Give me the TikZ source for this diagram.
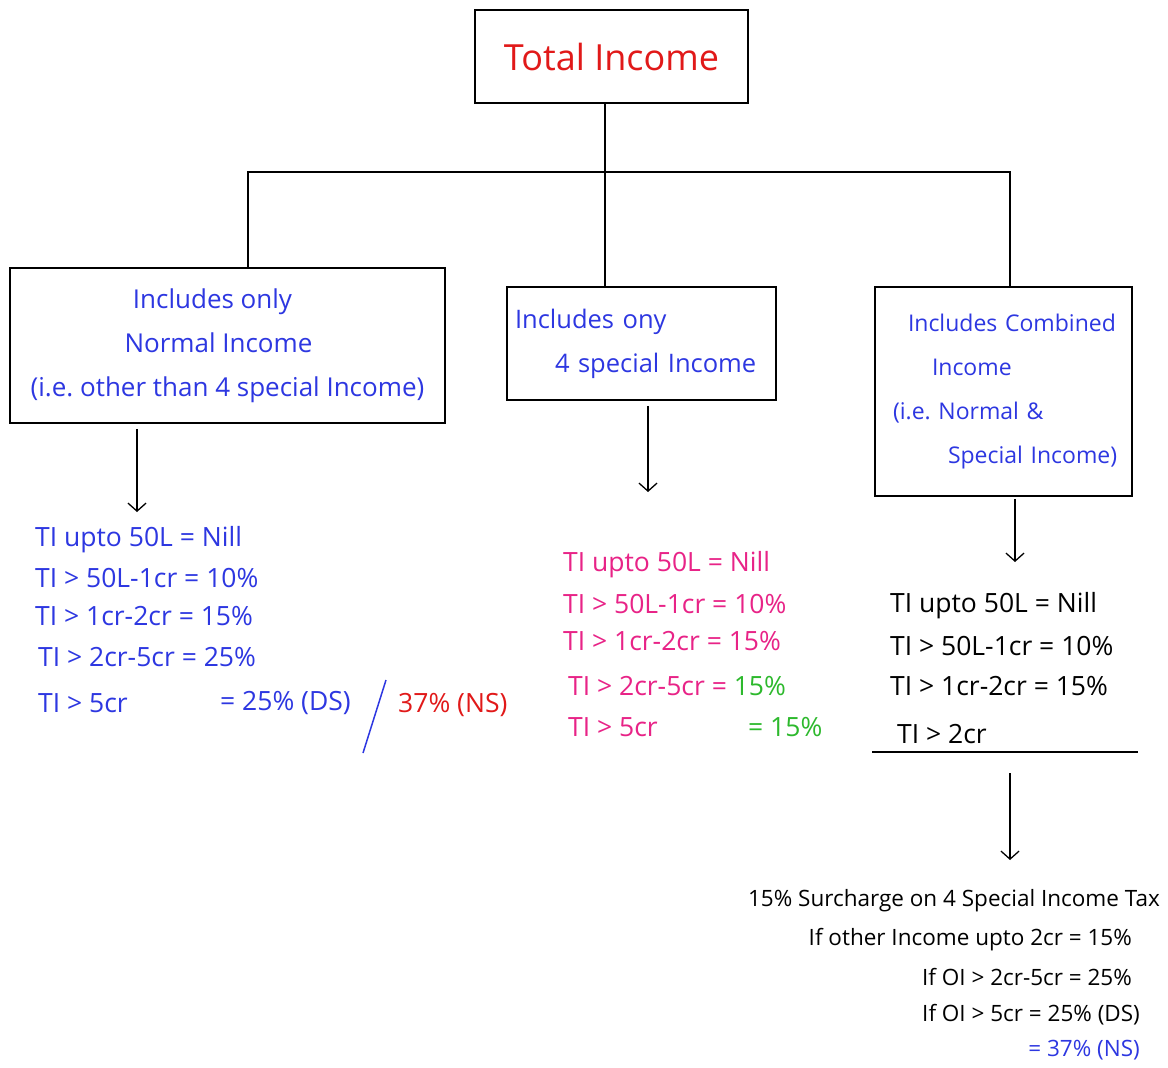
\documentclass[tikz,border=0pt]{standalone}
\usepackage{fontspec}
\setmainfont{Open Sans}
\usetikzlibrary{arrows.meta}
\definecolor{inkblue}{RGB}{45,55,225}
\definecolor{inkred}{RGB}{225,25,25}
\definecolor{inkpink}{RGB}{232,35,135}
\definecolor{inkgreen}{RGB}{45,185,45}
\begin{document}
\begin{tikzpicture}[x=1pt,y=-1pt,
  box/.style={draw,line width=1.6pt,inner sep=0pt},
  wire/.style={line width=1.4pt},
  arr/.style={line width=1.3pt,-{Straight Barb[length=8pt,width=18pt,line width=1.3pt]}},
  entry/.style={anchor=west,inner sep=0pt,font=\fontsize{26.5}{30}\selectfont},
  note/.style={anchor=east,inner sep=0pt,font=\fontsize{22.5}{26}\selectfont},
]
\fill[white] (0,0) rectangle (1168,1068);
\useasboundingbox (0,0) rectangle (1168,1068);

% boxes
\node[box,minimum width=273pt,minimum height=93pt,text=inkred,font=\fontsize{36}{42}\selectfont]
  (ti) at (611.5,56.5) {Total Income};
\node[box,minimum width=435pt,minimum height=155pt,text=inkblue,align=center,
      font=\fontsize{26}{44}\selectfont]
  (left) at (227.5,345.5) {\hspace{-30pt}Includes only\\\hspace{-18pt}Normal Income\\(i.e.\ other than 4 special Income)};
\node[box,minimum width=269pt,minimum height=113pt,text=inkblue,align=left,
      inner xsep=8pt,text width=253pt,font=\fontsize{25.5}{44}\selectfont]
  (mid) at (641.5,343.5) {Includes ony\\\hspace{40pt}4 special Income};
\node[box,minimum width=257pt,minimum height=209pt,text=inkblue,align=left,
      inner xsep=11pt,text width=235pt,font=\fontsize{23}{44}\selectfont]
  (right) at (1003.5,391.5) {\hspace{22pt}Includes Combined\\\hspace{46pt}Income\\\hspace{7pt}(i.e.\ Normal \&\\\hspace{62pt}Special Income)};

% tree connectors
\coordinate (hub) at (605,172);
\coordinate (bl) at (248,172);
\coordinate (br) at (1010,172);
\draw[wire] (ti.south -| hub) -- (hub);
\draw[wire] (bl |- left.north) -- (bl) -- (br) -- (br |- right.north);
\draw[wire] (hub |- mid.north) -- (hub);

% left list
\node[entry,text=inkblue] (l1) at (35,540) {TI upto 50L = Nill};
\node[entry,text=inkblue] (l2) at (35,578) {TI > 50L-1cr = 10\%};
\node[entry,text=inkblue] (l3) at (35,616) {TI > 1cr-2cr = 15\%};
\node[entry,text=inkblue] (l4) at (38,657) {TI > 2cr-5cr = 25\%};
\node[entry,text=inkblue] (l5) at (38,703) {TI > 5cr};
\node[entry,text=inkblue] (l5b) at (220,703) {= 25\% (DS)};
\node[entry,text=inkred] (l5c) at (398,705) {37\% (NS)};
\coordinate (slashlo) at (363,753);
\coordinate (slashhi) at (386,680);
\draw[inkblue,line width=1.5pt] (slashlo) -- (slashhi);

% middle list
\node[entry,text=inkpink] (m1) at (563,565) {TI upto 50L = Nill};
\node[entry,text=inkpink] (m2) at (563,604) {TI > 50L-1cr = 10\%};
\node[entry,text=inkpink] (m3) at (563,641) {TI > 1cr-2cr = 15\%};
\node[entry,text=inkpink] (m4) at (568,686) {TI > 2cr-5cr = \textcolor{inkgreen}{15\%}};
\node[entry,text=inkpink] (m5) at (568,727) {TI > 5cr};
\node[entry,text=inkgreen] (m5b) at (748,727) {= 15\%};

% right list
\node[entry] (r1) at (890,606) {TI upto 50L = Nill};
\node[entry] (r2) at (890,646) {TI > 50L-1cr = 10\%};
\node[entry] (r3) at (890,686) {TI > 1cr-2cr = 15\%};
\node[entry] (r4) at (897,734) {TI > 2cr};
\coordinate (ulA) at (872,752);
\coordinate (ulB) at (1138,752);
\draw[line width=1.4pt] (ulA) -- (ulB);

% surcharge notes
\node[note] (s1) at (1160,901) {15\% Surcharge on 4 Special Income Tax};
\node[note] (s2) at (1132,940) {If other Income upto 2cr = 15\%};
\node[note] (s3) at (1132,977) {If OI > 2cr-5cr = 25\%};
\node[note] (s4) at (1140,1015) {If OI > 5cr = 25\% (DS)};
\node[note,text=inkblue] (s5) at (1140,1050) {= 37\% (NS)};

% arrows
\coordinate (la) at (137,512);
\coordinate (ma) at (648,492);
\coordinate (ra) at (1015,562);
\coordinate (sa) at (1010,860);
\draw[arr,shorten <=5pt] (la |- left.south) -- (la);
\draw[arr,shorten <=5pt] (ma |- mid.south) -- (ma);
\draw[arr,shorten <=2pt] (ra |- right.south) -- (ra);
\draw[arr,shorten <=21pt] (sa |- ulA) -- (sa);
\end{tikzpicture}
\end{document}
